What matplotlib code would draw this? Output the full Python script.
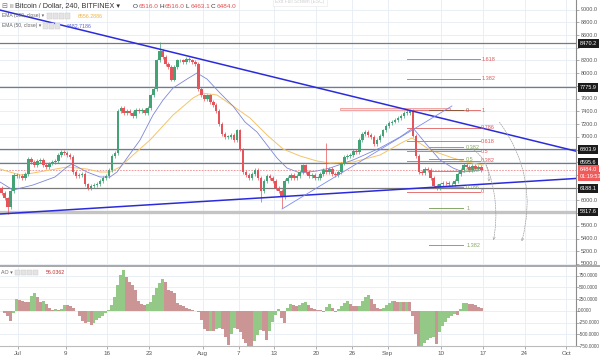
import numpy as np
import matplotlib
matplotlib.use('Agg')
import matplotlib.pyplot as plt
from matplotlib.patches import Rectangle

plt.rcParams['font.family'] = ['Liberation Sans', 'DejaVu Sans']

# BTCUSD, 12h closes, Jun 28 .. Sep 16 2018
first_open = 6190
closes = [
    6120, 6030, 5890, 6150, 6400, 6380,                      # Jun 28-30
    6380, 6350, 6420, 6650, 6600, 6560, 6620, 6640, 6560, 6520,  # Jul 1-5
    6580, 6600, 6620, 6720, 6760, 6740, 6720, 6680, 6450, 6380,  # Jul 6-10
    6400, 6420, 6250, 6200, 6230, 6240, 6260, 6300, 6350, 6380,  # Jul 11-15
    6480, 6700, 6750, 7400, 7450, 7380, 7400, 7380, 7320, 7420,  # Jul 16-20
    7400, 7420, 7380, 7450, 7650, 7750, 8200, 8350, 8250, 8150,  # Jul 21-25
    8100, 7900, 8100, 8200, 8200, 8180, 8220, 8200, 8180, 8150,  # Jul 26-30
    7750, 7650,                                              # Jul 31
    7600, 7650, 7550, 7500, 7400, 7200, 7050, 7000, 7000, 7030,  # Aug 1-5
    6950, 7100, 6800, 6450, 6400, 6350, 6420, 6480, 6350, 6150,  # Aug 6-10
    6300, 6380, 6350, 6300, 6200, 6150, 6050, 6300, 6350, 6400,  # Aug 11-15
    6350, 6380, 6450, 6550, 6450, 6380, 6400, 6350, 6350, 6420,  # Aug 16-20
    6480, 6450, 6500, 6420, 6400, 6450, 6580, 6680, 6700, 6720,  # Aug 21-25
    6780, 6760, 6950, 7050, 7080, 7030, 7000, 6880, 6950, 7020,  # Aug 26-30
    7100, 7170,                                              # Aug 31
    7220, 7240, 7270, 7300, 7330, 7380, 7380, 7400, 7020, 6700,  # Sep 1-5
    6450, 6430, 6500, 6480, 6350, 6220, 6200, 6250, 6280, 6270,  # Sep 6-10
    6250, 6260, 6300, 6420, 6480, 6560, 6520, 6480, 6540, 6500,  # Sep 11-15
    6520, 6484,                                              # Sep 16
]
# a few long wicks (candle index: low, high)
wick_extremes = {2: (5780, None), 53: (None, 8490), 87: (5980, None),
                 94: (5880, None), 109: (None, 6900), 136: (None, 7420)}

# moving averages (days since Jul 1, price)
ema100_days = [-3.02, 0.34, 2.52, 8.22, 11.58, 13.76, 15.44, 17.11, 19.30, 22.15,
               26.01, 29.36, 30.87, 33.39, 36.07, 38.93, 41.78, 44.46, 47.32, 50.17,
               52.35, 56.21, 60.74, 64.60, 66.11, 69.13, 72.99, 75.34, 78.02]
ema100_vals = [6493, 6399, 6430, 6525, 6493, 6446, 6446, 6525, 6713, 6949,
               7342, 7610, 7688, 7657, 7484, 7295, 7028, 6808, 6698, 6619,
               6588, 6603, 6713, 6918, 6981, 6792, 6666, 6603, 6556]
ema50_days = [-3.02, -0.84, 2.52, 6.21, 8.22, 9.06, 11.58, 13.76, 15.44, 16.61,
              18.29, 20.47, 22.65, 24.33, 26.01, 28.36, 30.03, 31.71, 33.89, 36.07,
              38.09, 40.10, 41.78, 43.46, 45.13, 47.32, 50.17, 52.35, 56.21, 60.74,
              64.09, 66.28, 68.62, 70.81, 72.99, 74.66, 78.02]
ema50_vals = [6289, 6163, 6242, 6368, 6525, 6572, 6446, 6368, 6368, 6446,
              6666, 6949, 7342, 7578, 7767, 7908, 8003, 7908, 7688, 7484,
              7232, 7075, 6871, 6666, 6509, 6431, 6462, 6509, 6635, 6824,
              6996, 7138, 6871, 6635, 6509, 6446, 6483]

# Awesome Oscillator, one value per 12h candle
ao_values = [
    -10, -40, -120, -210, -50, 245, 230, 215, 195, 180,
    320, 385, 290, 190, 200, 150, 60, 10, 30, 20,
    40, 130, 120, 95, 60, -10, -120, -210, -250, -240,
    -300, -250, -190, -150, -100, -40, 20, 120, 300, 560,
    760, 870, 720, 610, 560, 450, 200, 140, 130, 140,
    190, 330, 480, 600, 680, 620, 450, 420, 380, 160,
    130, 100, 60, 40, 10, -10, -30, -200, -380, -430,
    -420, -440, -390, -370, -390, -560, -730, -500, -360, -380,
    -450, -600, -680, -760, -800, -650, -520, -400, -420, -630,
    -420, -230, -80, 30, -150, -250, 60, 140, 120, 110,
    130, 170, 190, 120, 50, 30, 20, 10, -20, 80,
    150, 60, -20, 40, 110, 170, 210, 150, 110, 100,
    110, 200, 300, 340, 250, 150, 60, 40, 70, 120,
    170, 210, 200, 190, 195, 190, 190, 185, -100, -500,
    -800, -760, -680, -620, -580, -560, -700, -450, -330, -230,
    -150, -100, -70, -80, 40, 170, 175, 150, 140, 130,
    90, 56,
]

h_levels = [8470.2, 7775.9, 6803.9, 6595.6, 6188.1]
h_level_thick = 5817.6
last_price = 6484.0

upper_line = ([-3.02, 97.65], [8993, 6682])
lower_line = ([-3.02, 97.65], [5786, 6368])
thin_line = ([44.3, 72.8], [5865, 7484])

fib_levels_red = [0, 0.382, 0.5, 0.618, 0.786, 1, 1.382, 1.618]
fib_red = (6132, 7421)
fib_levels_green = [0, 0.382, 0.5, 0.618, 0.786, 1, 1.382]
fib_green = (7421, 5880)

date_ticks = [0, 8, 15, 22, 31, 37, 43, 50, 56, 62, 71, 78, 85, 92]
date_labels = ['Jul', '9', '16', '23', 'Aug', '7', '13', '20', '26', 'Sep', '10', '17', '24', 'Oct']
price_labels = [9000, 8800, 8600, 8200, 8000, 7600, 7400, 7200, 7000, 6000, 5600, 5400, 5200, 5000]
ao_labels = [750, 500, 250, 0, -250, -500, -750]

GREEN = '#43a276'
RED = '#e5535b'
GRID = '#e6edf5'
AXC = '#8c8c8c'
TXT = '#555555'

fig = plt.figure(figsize=(6, 3.58), dpi=100)
ax = fig.add_axes([0, 1 - 265 / 358, 576 / 600, 265 / 358])
ax2 = fig.add_axes([0, 1 - 346 / 358, 576 / 600, 79 / 358], sharex=ax)

ax.set_xlim(-3.02, 93.62)
ax.set_ylim(4984, 9151)
ax2.set_ylim(-724, 935)

for a in (ax, ax2):
    for s in ('left', 'top'):
        a.spines[s].set_visible(False)
    a.spines['right'].set_color(AXC)
    a.spines['right'].set_linewidth(0.8)
    a.set_xticks(date_ticks)
    a.grid(True, color=GRID, lw=0.6)
    a.set_axisbelow(True)
    a.tick_params(axis='y', left=False, right=True, labelleft=False, labelright=False,
                  length=2, width=0.5, color=AXC)
ax.spines['bottom'].set_visible(False)
ax2.spines['bottom'].set_color('#bbbbbb')
ax.set_yticks(range(5000, 9001, 200))
ax2.set_yticks(ao_labels)
ax.tick_params(axis='x', bottom=False, labelbottom=False)
ax2.set_xticklabels(date_labels)
ax2.tick_params(axis='x', length=2, width=0.5, color=AXC, labelsize=4.5, labelcolor=TXT, pad=1.5)

# horizontal levels
for lv in h_levels:
    ax.axhline(lv, color='#7a7a7a', lw=0.9, zorder=2)
ax.axhline(h_level_thick, color='#c4c4c4', lw=2.4, zorder=2)
ax.axhline(last_price, color='#f08a8a', lw=0.6, ls=(0, (2, 1.5)), zorder=2)

# moving averages
ax.plot(ema100_days, ema100_vals, color='#f3c46a', lw=0.7, zorder=3)
ax.plot(ema50_days, ema50_vals, color='#7d86d8', lw=0.6, zorder=3)

# candles
n = len(closes)
t = -3 + 0.25 + 0.5 * np.arange(n)
opens = [first_open] + closes[:-1]
cols = [GREEN if c >= o else RED for o, c in zip(opens, closes)]
body_lo = [min(o, c) for o, c in zip(opens, closes)]
body_h = [max(abs(c - o), 10) for o, c in zip(opens, closes)]
lows = [min(o, c) - 30 for o, c in zip(opens, closes)]
highs = [max(o, c) + 30 for o, c in zip(opens, closes)]
for i, (lo, hi) in wick_extremes.items():
    if lo is not None:
        lows[i] = lo
    if hi is not None:
        highs[i] = hi
ax.vlines(t, lows, highs, colors=cols, lw=0.5, zorder=4)
ax.bar(t, body_h, bottom=body_lo, width=0.44, color=cols, lw=0, zorder=4)

# trend lines
ax.plot(*upper_line, color='#2b2bdc', lw=1.1, zorder=5)
ax.plot(*lower_line, color='#2b2bdc', lw=1.1, zorder=5)
ax.plot(*thin_line, color='#7b8cf0', lw=0.6, zorder=5)

# rectangle over the Sep top
ax.add_patch(Rectangle((54.0, 7416), 18.5, 41, fc='#fbe1e1', ec='#f19a9a', lw=0.6, zorder=3))

# fib tools
for lv in fib_levels_red:
    p = fib_red[0] + lv * (fib_red[1] - fib_red[0])
    ax.plot([65.3, 77.5], [p, p], color='#e57373', lw=0.7, zorder=3)
    ax.text(77.7, p, f'{lv:g}', color='#e05a5a', fontsize=4, va='center', ha='left', zorder=6)
for lv in fib_levels_green:
    p = fib_green[0] + lv * (fib_green[1] - fib_green[0])
    c = '#8b5a3c' if lv == 0 else '#86a866'
    ax.plot([69.0, 74.7], [p, p], color=c, lw=0.7, zorder=3)
    ax.text(75.2, p, f'{lv:g}', color=c, fontsize=4, va='center', ha='left', zorder=6)

# projected moves
arrows = [((75.8, 6839), (79.0, 6250), -0.3),
          ((78.4, 6600), (79.7, 5330), -0.15),
          ((80.5, 7264), (84.4, 5314), -0.25)]
for (x0, y0), (x1, y1), rad in arrows:
    ax.annotate('', xy=(x1, y1), xytext=(x0, y0),
                arrowprops=dict(arrowstyle='->', color='#a0a0a0', lw=0.5, ls=(0, (2, 1.5)),
                                mutation_scale=4, connectionstyle=f'arc3,rad={rad}'), zorder=6)

# AO histogram
ao_cols = ['#93c886' if i == 0 or ao_values[i] >= ao_values[i - 1] else '#cb9595'
           for i in range(len(ao_values))]
ax2.bar(t, ao_values, width=0.5, color=ao_cols, lw=0, zorder=3)

# right axis labels
ytr = ax.get_yaxis_transform()
for v in price_labels:
    ax.text(1.008, v, f'{v:.1f}', transform=ytr, fontsize=4, color=TXT, va='center', ha='left')
for lv in h_levels + [h_level_thick]:
    ax.text(1.006, lv, f'{lv:.1f}', transform=ytr, fontsize=4, color='white', va='center', ha='left',
            bbox=dict(boxstyle='square,pad=0.35', fc='#1c1c1c', ec='none'))
ax.text(1.006, last_price, f'{last_price:.1f}', transform=ytr, fontsize=4, color='white', va='center',
        ha='left', bbox=dict(boxstyle='square,pad=0.35', fc='#ef5b5b', ec='none'))
ax.text(1.006, 6370, '01:19:53', transform=ytr, fontsize=4, color='white', va='center',
        ha='left', bbox=dict(boxstyle='square,pad=0.35', fc='#ef5b5b', ec='none'))
ytr2 = ax2.get_yaxis_transform()
for v in ao_labels:
    ax2.text(1.004, v, f'{v:.4f}', transform=ytr2, fontsize=3.4, color=TXT, va='center', ha='left')

# pane separator
fig.add_artist(plt.Line2D([0, 1], [1 - 265.5 / 358] * 2, color='#9a9a9a', lw=1.2))

# header texts
def px(x, y):
    return x / 600, 1 - y / 358

fig.text(*px(1, 6), '⊟', fontsize=5, color='#777777', va='center', family='DejaVu Sans')
fig.text(*px(9, 6), 'Ⅲ', fontsize=4, color='#888888', va='center', family='DejaVu Sans')
fig.text(*px(15, 6), 'Bitcoin / Dollar, 240, BITFINEX ▾', fontsize=5.2, color='#333333', va='center')
x = 133
for k, v in [('O', '6516.0'), ('H', '6516.0'), ('L', '6463.1'), ('C', '6484.0')]:
    fig.text(*px(x, 6), k, fontsize=4.6, color='#333333', va='center')
    fig.text(*px(x + 5.8, 6), v, fontsize=4.6, color='#e05050', va='center')
    x += 26
fig.text(*px(2, 16), 'EMA (100, close) ▾', fontsize=3.6, color='#666666', va='center')
fig.text(*px(78, 16), '6556.2886', fontsize=3.8, color='#f0b040', va='center')
fig.text(*px(2, 26), 'EMA (50, close) ▾', fontsize=3.6, color='#666666', va='center')
fig.text(*px(67, 26), '6482.7186', fontsize=3.8, color='#5a64d0', va='center')
fig.text(*px(1, 272), 'AO ▾', fontsize=3.8, color='#666666', va='center')
fig.text(*px(46, 272), '56.0362', fontsize=3.8, color='#c03030', va='center')
for xs, y in [((47, 53, 59, 65), 16), ((43, 49, 55), 26), ((15, 21, 27, 33), 272)]:
    for xx in xs:
        fig.add_artist(Rectangle(px(xx, y + 2.5), 5 / 600, 5 / 358, fc='#e4e4e4', ec='#c8c8c8', lw=0.3))
fig.text(*px(300, 1.5), 'Exit Full Screen (ESC)', fontsize=3.5, color='#d0d0d0', ha='center', va='center',
         bbox=dict(boxstyle='square,pad=0.4', fc='white', ec='#e6e6e6', lw=0.4))

fig.savefig('out.png', dpi=100)
